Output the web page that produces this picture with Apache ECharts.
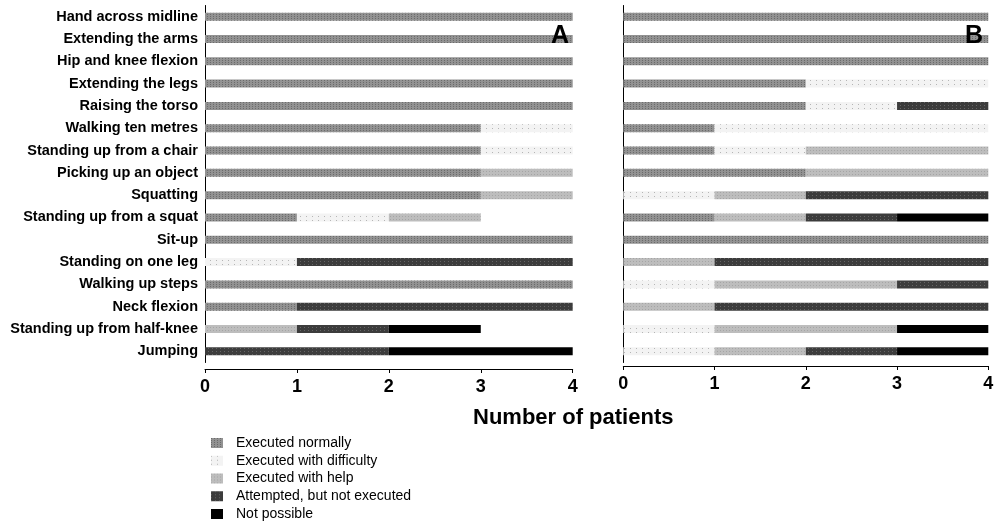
<!DOCTYPE html>
<html>
<head>
<meta charset="utf-8">
<script src="https://cdn.jsdelivr.net/npm/echarts@6/dist/echarts.min.js"></script>
<style>
html,body{margin:0;padding:0;background:#fff;}
#chart{width:1000px;height:526px;}
</style>
</head>
<body>
<div id="chart"></div>
<script>
const categories = ["Hand across midline","Extending the arms","Hip and knee flexion","Extending the legs","Raising the torso","Walking ten metres","Standing up from a chair","Picking up an object","Squatting","Standing up from a squat","Sit-up","Standing on one leg","Walking up steps","Neck flexion","Standing up from half-knee","Jumping"];
const seriesNames = ["Executed normally","Executed with difficulty","Executed with help","Attempted, but not executed","Not possible"];
const xTicks = [0,1,2,3,4];

// Panel A
const normalA     = [4,4,4,4,4,3,3,3,3,1,4,0,4,1,0,0];
const difficultyA = [0,0,0,0,0,1,1,0,0,1,0,1,0,0,0,0];
const helpA       = [0,0,0,0,0,0,0,1,1,1,0,0,0,0,1,0];
const attemptedA  = [0,0,0,0,0,0,0,0,0,0,0,3,0,3,1,2];
const notPossA    = [0,0,0,0,0,0,0,0,0,0,0,0,0,0,1,2];

// Panel B
const normalB     = [4,4,4,2,2,1,1,2,0,1,4,0,0,0,0,0];
const difficultyB = [0,0,0,2,1,3,1,0,1,0,0,0,1,0,1,1];
const helpB       = [0,0,0,0,0,0,2,2,1,1,0,1,2,1,2,1];
const attemptedB  = [0,0,0,0,1,0,0,0,2,1,0,3,1,3,0,1];
const notPossB    = [0,0,0,0,0,0,0,0,0,1,0,0,0,0,1,1];

const colors = ['#929292','#f3f3f3','#bdbdbd','#3c3c3c','#000000'];
const decals = [
  {symbol:'rect', symbolSize:1, color:'rgba(60,60,60,0.45)', dashArrayX:[1,2], dashArrayY:[1,1], rotation:0},
  {symbol:'rect', symbolSize:1, color:'rgba(120,120,120,0.5)', dashArrayX:[1,5], dashArrayY:[1,3], rotation:0},
  {symbol:'rect', symbolSize:1, color:'rgba(120,120,120,0.35)', dashArrayX:[1,2], dashArrayY:[1,2], rotation:0},
  {symbol:'rect', symbolSize:1, color:'rgba(150,150,150,0.45)', dashArrayX:[1,3], dashArrayY:[1,2], rotation:0},
  {symbol:'none'}
];

const dataA = [normalA, difficultyA, helpA, attemptedA, notPossA];
const dataB = [normalB, difficultyB, helpB, attemptedB, notPossB];

const FONT = 'Liberation Sans, Arial, sans-serif';

function mkSeries(data, idx, stack){
  return data.map((arr,i)=>({
    name: seriesNames[i],
    type:'bar',
    stack: stack,
    xAxisIndex: idx, yAxisIndex: idx,
    barWidth: 8,
    data: arr,
    itemStyle:{color: colors[i], decal: decals[i]},
    emphasis:{disabled:true},
    silent:true
  }));
}

const xAxisCommon = {
  type:'value', min:0, max:4, interval:1,
  splitLine:{show:false},
  axisLine:{show:true, lineStyle:{color:'#000', width:1}},
  axisTick:{show:true, length:4, lineStyle:{color:'#000'}},
  axisLabel:{fontFamily:FONT, fontWeight:'bold', fontSize:18, color:'#000', margin:9,
    formatter:(v)=> xTicks.indexOf(v)>=0 ? String(v) : ''}
};

const option = {
  animation:false,
  aria:{enabled:true, decal:{show:true}},
  grid:[
    {left:205, right:1000-572.7, top:5.5, bottom:526-362.5},
    {left:623.3, right:1000-988.3, top:5.5, bottom:526-362.5}
  ],
  xAxis:[
    Object.assign({gridIndex:0, offset:6.5}, xAxisCommon),
    Object.assign({gridIndex:1, offset:3.5}, xAxisCommon)
  ],
  yAxis:[
    {type:'category', gridIndex:0, data:categories, inverse:true,
     axisLine:{show:true, lineStyle:{color:'#000'}}, axisTick:{show:false},
     axisLabel:{fontFamily:FONT, fontWeight:'bold', fontSize:14.5, color:'#000', margin:7}},
    {type:'category', gridIndex:1, data:categories, inverse:true,
     axisLine:{show:true, lineStyle:{color:'#000'}}, axisTick:{show:false},
     axisLabel:{show:false}}
  ],
  legend:{
    orient:'vertical', left:206, top:431, height:100,
    itemWidth:12, itemHeight:10, itemGap:3.75,
    icon:'rect',
    selectedMode:false,
    textStyle:{fontFamily:FONT, fontSize:14, color:'#000', padding:[0,0,0,8]},
    data: seriesNames
  },
  graphic:[
    {type:'text', right:1000-569, top:24, z:100, style:{text:'A', font:'bold 25px '+FONT, fill:'#000'}},
    {type:'text', right:1000-983, top:24, z:100, style:{text:'B', font:'bold 25px '+FONT, fill:'#000'}},
    {type:'text', left:473, top:407, z:100, style:{text:'Number of patients', font:'bold 22px '+FONT, fill:'#000'}}
  ],
  series: mkSeries(dataA,0,'a').concat(mkSeries(dataB,1,'b'))
};

const chart = echarts.init(document.getElementById('chart'), null, {renderer:'canvas'});
chart.setOption(option);
</script>
</body>
</html>
